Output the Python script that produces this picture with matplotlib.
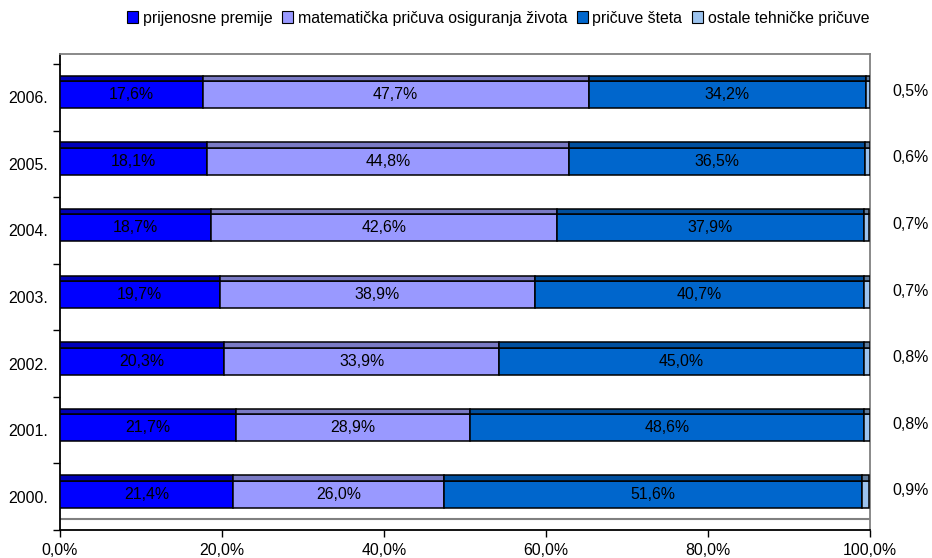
import matplotlib
matplotlib.use("Agg")
import matplotlib.pyplot as plt
from matplotlib.patches import Patch

plt.rcParams['font.family'] = ['Liberation Sans', 'DejaVu Sans']

years = ["2000.", "2001.", "2002.", "2003.", "2004.", "2005.", "2006."]
prijenosne = [21.4, 21.7, 20.3, 19.7, 18.7, 18.1, 17.6]
matematicka = [26.0, 28.9, 33.9, 38.9, 42.6, 44.8, 47.7]
stete = [51.6, 48.6, 45.0, 40.7, 37.9, 36.5, 34.2]
ostale = [0.9, 0.8, 0.8, 0.7, 0.7, 0.6, 0.5]
series_names = ["prijenosne premije", "matematička pričuva osiguranja života",
                "pričuve šteta", "ostale tehničke pričuve"]
xticks = [0, 20, 40, 60, 80, 100]
xtick_labels = ["0,0%", "20,0%", "40,0%", "60,0%", "80,0%", "100,0%"]

front_colors = ["#0000FF", "#9999FF", "#0066CC", "#9CC3EE"]
top_colors = ["#0000B8", "#7A7AC4", "#004F9E", "#5F7A99"]
FS = 11.4

fig = plt.figure(figsize=(9.32, 5.58), dpi=100)
px_unit = 466 / 7.0
ax = fig.add_axes([60/932, 1-530/558, 810/932, 476/558])
ax.set_xlim(0, 100)
ax.set_ylim(-0.5, 6.5 + 10/px_unit)

f_lo = -11/px_unit
f_hi = 16.0/px_unit
t_hi = 21.5/px_unit

series = [prijenosne, matematicka, stete, ostale]
ypos = list(range(len(years)))
left = [0.0]*len(years)
for s, vals in enumerate(series):
    ax.barh([y + (f_lo+f_hi)/2 for y in ypos], vals, left=left, height=f_hi-f_lo,
            color=front_colors[s], edgecolor="black", linewidth=1.1, zorder=3)
    ax.barh([y + (f_hi+t_hi)/2 for y in ypos], vals, left=left, height=t_hi-f_hi,
            color=top_colors[s], edgecolor="black", linewidth=1.1, zorder=3)
    for i, v in enumerate(vals):
        lbl = f"{v:.1f}%".replace(".", ",")
        if s < 3:
            ax.text(left[i] + v/2, ypos[i] + (f_lo+f_hi)/2, lbl, ha="center", va="center",
                    fontsize=FS, color="black", zorder=4)
        else:
            ax.text(102.8, ypos[i] + 6/px_unit, lbl, ha="left", va="center",
                    fontsize=FS, color="black", clip_on=False)
    left = [l + v for l, v in zip(left, vals)]

# floor back edge
ax.axhline(-0.5 + 11/px_unit, color="#808080", linewidth=1.5, zorder=1)

ax.set_yticks(ypos)
ax.set_yticklabels(years, fontsize=FS)
ax.tick_params(axis="y", which="major", length=0, pad=8.5)
ax.set_yticks([y - 0.5 for y in range(len(years)+1)], minor=True)
ax.tick_params(axis="y", which="minor", length=5, direction="out", width=1)
ax.set_xticks(xticks)
ax.set_xticklabels(xtick_labels, fontsize=FS)
ax.tick_params(axis="x", length=5, direction="out", width=1, pad=4.5)

ax.spines["left"].set_color("black")
ax.spines["bottom"].set_color("black")
ax.spines["top"].set_color("#808080")
ax.spines["right"].set_color("#808080")
for sp in ax.spines.values():
    sp.set_linewidth(1.3)

handles = [Patch(facecolor=c, edgecolor="black", linewidth=0.8) for c in front_colors]
fig.legend(handles, series_names, loc="center", bbox_to_anchor=(498/932, 1-18/558),
           ncol=4, frameon=False, fontsize=FS, handlelength=0.7, handleheight=0.7,
           handletextpad=0.3, columnspacing=0.6, borderaxespad=0)

fig.savefig("out.png", dpi=100)
